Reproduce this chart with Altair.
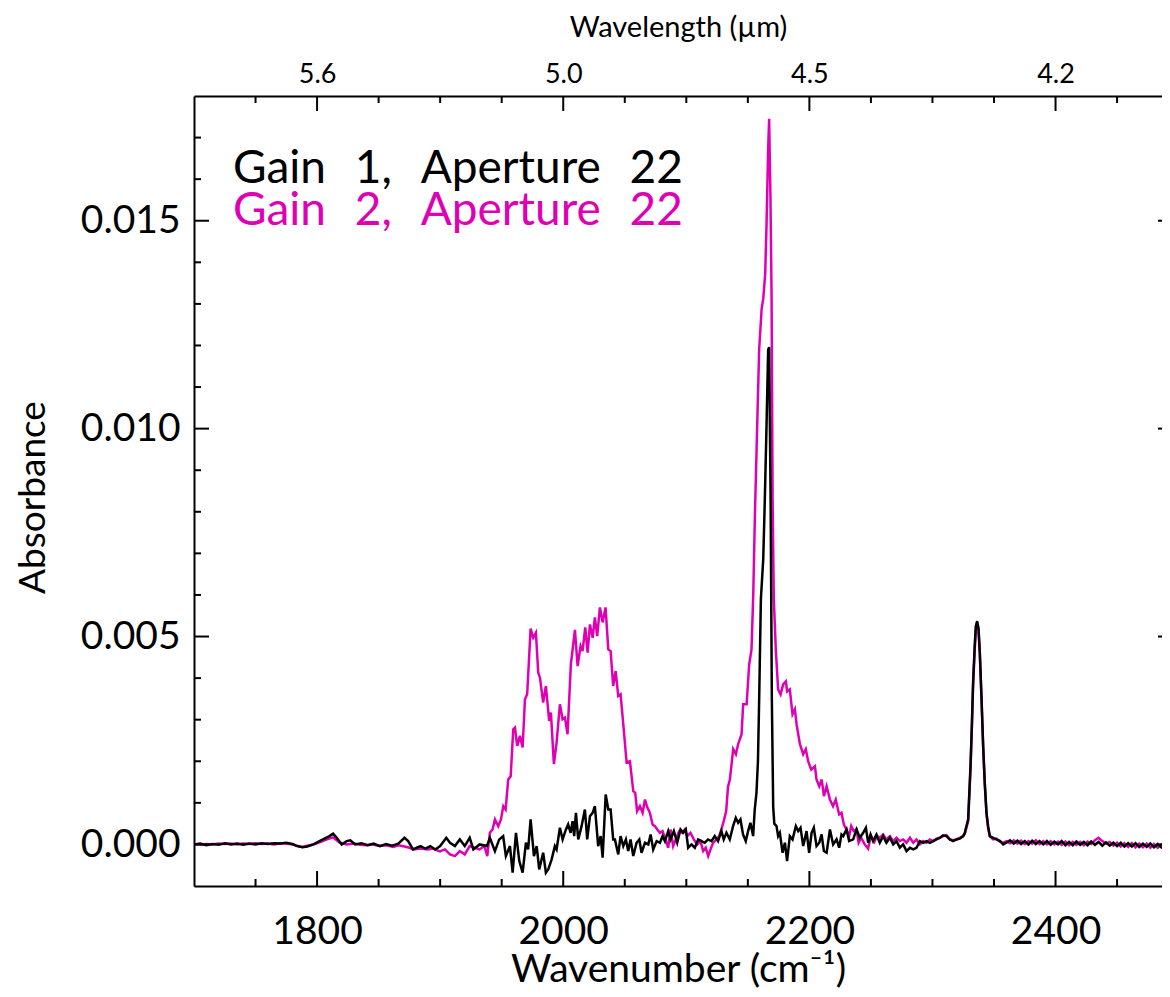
import altair as alt
import pandas as pd

# ---------------- data ----------------
wn_g1 = [1700, 1705, 1710, 1715, 1720, 1725, 1730, 1735, 1740, 1745, 1750, 1755, 1760, 1765, 1770, 1775, 1780, 1784, 1788, 1792,
         1797, 1802, 1806, 1810, 1813, 1816, 1820, 1824, 1827, 1831, 1836, 1841, 1846, 1851, 1856, 1861, 1866, 1871, 1874, 1878,
         1881, 1884, 1888, 1892, 1896, 1900, 1905, 1908, 1912, 1916, 1920, 1924, 1927, 1932, 1938, 1940.4, 1944.5, 1948, 1951.2, 1953.4,
         1956.7, 1958.9, 1961.6, 1964.3, 1967, 1969.7, 1971.5, 1973.5, 1976.2, 1978.4, 1980.5, 1983.7, 1985.9, 1987.8, 1990.6, 1993.2, 1994.6, 1997.3, 1999.5, 2002.2,
         2004, 2006, 2007.6, 2008.9, 2010.3, 2012.2, 2014.9, 2017.6, 2019.5, 2021.7, 2023.9, 2025.7, 2028.4, 2030.4, 2032, 2034.5, 2036.6, 2038.5, 2040.6, 2042,
         2044.7, 2046.6, 2048.8, 2050.9, 2052.8, 2054.7, 2056.9, 2059.6, 2061.8, 2063.6, 2066.4, 2069.1, 2071, 2073.1, 2075.9, 2078.6, 2080.7, 2082.6, 2085.3, 2087.2,
         2089.9, 2092.6, 2095.3, 2097.5, 2099.6, 2101.5, 2104.2, 2106.9, 2109.6, 2112.3, 2115, 2117.7, 2120.4, 2123.1, 2125.8, 2128.5, 2130.4, 2132.6, 2135.3, 2138,
         2140.2, 2142.1, 2144, 2146.1, 2148.3, 2150.2, 2152.1, 2154.3, 2155.6, 2157, 2158.2, 2159.2, 2160.6, 2162.5, 2163.8, 2165.2, 2166.5, 2167.3, 2168.5, 2169.5,
         2170.6, 2171.5, 2173.3, 2174.6, 2176, 2178.2, 2180.1, 2181.9, 2184.1, 2186.3, 2189, 2190.9, 2192.8, 2195, 2197.7, 2199.8, 2201.8, 2203.6, 2205.8, 2208,
         2209.9, 2211.8, 2214, 2216.7, 2219.3, 2222.1, 2224.2, 2226.1, 2227.5, 2230.2, 2232.3, 2235.6, 2238.3, 2241, 2243.7, 2245.9, 2247.8, 2249.7, 2251.8, 2254.5,
         2257.2, 2259.9, 2262.6, 2265.4, 2268.1, 2270.8, 2273.5, 2276.2, 2278.9, 2281.7, 2284.4, 2287, 2289.8, 2292.5, 2295.2, 2297.9, 2300.6, 2303.3, 2306, 2308.7,
         2311.4, 2314.1, 2316.8, 2319.5, 2322.2, 2325, 2326.3, 2327.6, 2329, 2330.9, 2332, 2333, 2334.2, 2335.2, 2336.3, 2337.4, 2338.5, 2339.9, 2341.2, 2342.5,
         2343.9, 2345.2, 2346.6, 2349.3, 2352, 2355, 2357.5, 2360, 2363, 2366, 2369, 2372, 2375, 2378, 2381, 2384, 2387, 2390, 2393, 2396,
         2399, 2402, 2405, 2408, 2411, 2414, 2417, 2420, 2423, 2426, 2429, 2432, 2435, 2438, 2441, 2444, 2447, 2450, 2453, 2456,
         2459, 2462, 2465, 2468, 2471, 2474, 2477, 2480, 2483, 2486, 2489, 2492]
abs_g1 = [0.00000, 0.00002, -0.00002, 0.00001, -0.00001, 0.00003, 0.00000, 0.00002, -0.00001, 0.00002, 0.00000, 0.00003, 0.00001, 0.00003, 0.00002, 0.00004, 0.00001, -0.00004, -0.00007, -0.00005,
          0.00000, 0.00008, 0.00014, 0.00020, 0.00026, 0.00016, 0.00000, 0.00008, 0.00010, 0.00000, 0.00003, -0.00002, 0.00002, -0.00004, 0.00001, -0.00003, 0.00002, 0.00016, 0.00008, -0.00012,
          -0.00008, -0.00004, -0.00010, -0.00004, -0.00012, -0.00004, 0.00016, 0.00004, -0.00004, 0.00012, -0.00004, 0.00016, -0.00012, 0.00000, -0.00004, 0.00016, -0.00016, 0.00012, 0.00020, -0.00028,
          -0.00004, -0.00068, 0.00028, -0.00040, -0.00068, 0.00004, -0.00012, 0.00060, -0.00028, -0.00004, -0.00060, -0.00020, -0.00068, -0.00060, -0.00036, -0.00004, -0.00012, 0.00040, 0.00012, 0.00036,
          0.00048, 0.00028, 0.00056, 0.00020, 0.00076, 0.00012, 0.00044, 0.00084, 0.00012, 0.00068, 0.00076, 0.00092, -0.00004, 0.00020, -0.00032, 0.00120, 0.00084, 0.00084, 0.00012, 0.00012,
          -0.00024, 0.00020, -0.00004, 0.00012, -0.00016, 0.00012, -0.00028, 0.00004, 0.00012, -0.00020, 0.00004, 0.00000, 0.00024, -0.00012, 0.00008, 0.00004, 0.00020, 0.00008, 0.00032, 0.00012,
          0.00032, 0.00004, 0.00036, 0.00028, 0.00036, -0.00008, 0.00000, -0.00008, 0.00012, 0.00008, 0.00004, 0.00012, 0.00008, 0.00020, 0.00008, 0.00032, 0.00012, 0.00028, 0.00012, 0.00044,
          0.00064, 0.00052, 0.00060, 0.00024, 0.00008, 0.00032, 0.00052, 0.00020, 0.00084, 0.00124, 0.00200, 0.00349, 0.00590, 0.00686, 0.00830, 0.01010, 0.01190, 0.01196, 0.00830, 0.00349,
          0.00090, 0.00050, 0.00044, 0.00020, 0.00028, -0.00020, 0.00004, -0.00040, 0.00020, 0.00012, 0.00044, 0.00032, 0.00040, -0.00004, 0.00032, -0.00020, 0.00028, 0.00040, -0.00004, 0.00004,
          0.00024, -0.00016, -0.00020, 0.00036, 0.00000, 0.00012, -0.00008, 0.00024, 0.00020, 0.00036, 0.00008, 0.00012, 0.00036, 0.00016, 0.00028, 0.00040, 0.00004, 0.00024, 0.00008, 0.00024,
          0.00004, 0.00020, 0.00004, 0.00016, 0.00000, 0.00008, -0.00008, 0.00000, -0.00016, -0.00008, -0.00012, -0.00008, 0.00008, 0.00004, 0.00008, 0.00004, 0.00008, 0.00012, 0.00016, 0.00022,
          0.00020, 0.00012, 0.00008, 0.00012, 0.00014, 0.00020, 0.00028, 0.00044, 0.00060, 0.00188, 0.00285, 0.00389, 0.00469, 0.00525, 0.00537, 0.00521, 0.00461, 0.00349, 0.00237, 0.00148,
          0.00076, 0.00044, 0.00020, 0.00016, 0.00012, 0.00008, 0.00000, 0.00004, 0.00010, 0.00002, 0.00009, 0.00001, 0.00008, 0.00000, 0.00009, 0.00001, 0.00008, 0.00000, 0.00008, -0.00001,
          0.00007, 0.00000, 0.00008, -0.00002, 0.00006, -0.00002, 0.00007, -0.00001, 0.00006, -0.00002, 0.00007, -0.00001, 0.00006, -0.00003, 0.00005, -0.00003, 0.00004, -0.00004, 0.00004, -0.00005,
          0.00003, -0.00005, 0.00003, -0.00006, 0.00002, -0.00006, 0.00002, -0.00007, 0.00001, -0.00007, 0.00000, -0.00006]

wn_g2 = [1700, 1705, 1710, 1715, 1720, 1725, 1730, 1735, 1740, 1745, 1750, 1755, 1760, 1765, 1770, 1775, 1780, 1784, 1788, 1792,
         1797, 1802, 1808, 1813, 1818, 1824, 1830, 1835, 1840, 1845, 1851, 1856, 1862, 1866, 1871, 1875, 1878, 1884, 1890, 1894,
         1899.8, 1903.9, 1908, 1912, 1916, 1920, 1924, 1928, 1932, 1936, 1938.3, 1940.4, 1942.6, 1944.5, 1947.2, 1949.4, 1951.3, 1953.2, 1955.3, 1957.3,
         1959.4, 1960.8, 1962.6, 1964.8, 1967, 1968.9, 1970.7, 1973.5, 1975.6, 1977.8, 1979.7, 1981.1, 1983.7, 1985.9, 1988.6, 1990, 1992.4, 1994.6, 1997.3, 1999.5,
         2001.4, 2003.5, 2006.2, 2009.5, 2011.7, 2014.1, 2015.7, 2017.9, 2019.8, 2021.7, 2023.9, 2025.7, 2027.6, 2029.8, 2032, 2034.4, 2036.6, 2038.5, 2040.6, 2042.6,
         2044.7, 2046.6, 2048.8, 2051.5, 2054.2, 2056.9, 2058.5, 2060, 2062.3, 2064.5, 2066.4, 2068.2, 2070.4, 2072.6, 2074.5, 2076.4, 2078.6, 2080.7, 2082.6, 2085.3,
         2087.2, 2089.3, 2091.4, 2094.2, 2096.9, 2098.8, 2100.7, 2103.4, 2106.1, 2108.8, 2111.5, 2113.7, 2115.8, 2117.8, 2119.7, 2121.8, 2124.5, 2126.7, 2128.5, 2130.4,
         2132.4, 2133.9, 2135.4, 2138.1, 2140.3, 2142.1, 2144.9, 2146.2, 2149, 2151.1, 2153, 2154.4, 2155.8, 2157.1, 2159.2, 2161.2, 2162.5, 2164.1, 2165.2, 2166.5,
         2167.3, 2168.4, 2169.3, 2170.1, 2171.1, 2172.7, 2174.6, 2176.6, 2178.7, 2180.9, 2181.9, 2184.1, 2186.3, 2188.2, 2189.6, 2192.3, 2195, 2197.1, 2199, 2201.5,
         2204.5, 2205.8, 2208, 2210, 2211.8, 2214, 2216.7, 2219.2, 2221.4, 2224.2, 2226.1, 2228, 2230, 2232.3, 2234, 2236, 2238.3, 2240, 2242, 2245,
         2247.7, 2250, 2252.8, 2255, 2257.2, 2259.9, 2262.6, 2265.4, 2268.1, 2270.8, 2273.5, 2276.2, 2278.9, 2281.7, 2284.4, 2287, 2289.8, 2292.5, 2295.2, 2297.9,
         2300.6, 2303.3, 2306, 2308.7, 2311.4, 2314.1, 2316.8, 2319.5, 2322.2, 2325, 2326.3, 2327.6, 2329, 2330.9, 2332, 2333, 2334.2, 2335.2, 2336.3, 2337.4,
         2338.5, 2339.9, 2341.2, 2342.5, 2343.9, 2345.2, 2346.6, 2349.3, 2352, 2355, 2357.5, 2360, 2363, 2366, 2369, 2372, 2375, 2378, 2381, 2384,
         2387, 2390, 2393, 2396, 2399, 2402, 2405, 2408, 2411, 2414, 2417, 2420, 2423, 2426, 2429, 2432, 2435, 2438, 2441, 2444,
         2447, 2450, 2453, 2456, 2459, 2462, 2465, 2468, 2471, 2474, 2477, 2480, 2483, 2486, 2489, 2492]
abs_g2 = [0.00001, -0.00001, 0.00001, 0.00000, 0.00002, 0.00001, 0.00002, 0.00000, 0.00002, 0.00001, 0.00003, 0.00001, 0.00002, 0.00000, 0.00003, 0.00002, 0.00000, -0.00004, -0.00006, -0.00003,
          0.00000, 0.00005, 0.00012, 0.00017, 0.00005, 0.00000, 0.00002, -0.00001, -0.00002, 0.00000, -0.00004, -0.00002, -0.00006, -0.00002, -0.00005, -0.00008, -0.00012, -0.00010, -0.00012, -0.00010,
          -0.00017, -0.00012, -0.00024, -0.00028, -0.00016, -0.00024, -0.00004, -0.00008, -0.00012, -0.00004, -0.00028, 0.00028, 0.00036, 0.00060, 0.00044, 0.00060, 0.00092, 0.00084, 0.00156, 0.00164,
          0.00277, 0.00281, 0.00237, 0.00261, 0.00233, 0.00349, 0.00361, 0.00519, 0.00497, 0.00509, 0.00413, 0.00401, 0.00341, 0.00381, 0.00297, 0.00317, 0.00193, 0.00245, 0.00337, 0.00301,
          0.00305, 0.00265, 0.00433, 0.00516, 0.00429, 0.00477, 0.00465, 0.00522, 0.00461, 0.00529, 0.00497, 0.00546, 0.00501, 0.00570, 0.00534, 0.00570, 0.00469, 0.00465, 0.00381, 0.00417,
          0.00357, 0.00361, 0.00289, 0.00197, 0.00200, 0.00128, 0.00124, 0.00080, 0.00092, 0.00076, 0.00108, 0.00090, 0.00076, 0.00048, 0.00044, 0.00036, 0.00028, 0.00032, 0.00016, -0.00008,
          0.00036, -0.00004, 0.00012, 0.00032, 0.00028, 0.00036, 0.00020, 0.00028, 0.00012, 0.00000, 0.00008, -0.00016, -0.00008, -0.00028, -0.00012, 0.00004, 0.00012, 0.00020, 0.00036, 0.00056,
          0.00080, 0.00139, 0.00156, 0.00229, 0.00217, 0.00241, 0.00265, 0.00337, 0.00337, 0.00433, 0.00469, 0.00602, 0.00800, 0.00950, 0.01191, 0.01288, 0.01312, 0.01372, 0.01492, 0.01673,
          0.01745, 0.01552, 0.01312, 0.00830, 0.00590, 0.00469, 0.00373, 0.00361, 0.00385, 0.00392, 0.00368, 0.00373, 0.00313, 0.00325, 0.00289, 0.00241, 0.00217, 0.00229, 0.00200, 0.00180,
          0.00188, 0.00156, 0.00140, 0.00156, 0.00116, 0.00140, 0.00108, 0.00092, 0.00108, 0.00072, 0.00076, 0.00048, 0.00036, 0.00020, 0.00044, 0.00032, 0.00036, 0.00004, 0.00016, 0.00000,
          -0.00010, 0.00020, 0.00006, 0.00020, 0.00016, 0.00024, 0.00012, 0.00020, 0.00008, 0.00016, 0.00008, 0.00012, 0.00004, 0.00016, 0.00004, 0.00012, 0.00000, 0.00008, 0.00004, 0.00012,
          0.00008, 0.00014, 0.00016, 0.00020, 0.00022, 0.00012, 0.00010, 0.00012, 0.00016, 0.00020, 0.00026, 0.00040, 0.00056, 0.00180, 0.00278, 0.00380, 0.00460, 0.00515, 0.00528, 0.00515,
          0.00455, 0.00345, 0.00232, 0.00145, 0.00074, 0.00040, 0.00020, 0.00012, 0.00014, 0.00006, 0.00004, 0.00008, 0.00003, 0.00010, 0.00002, 0.00009, 0.00001, 0.00008, 0.00002, 0.00010,
          0.00001, 0.00008, 0.00000, 0.00008, 0.00000, 0.00007, -0.00001, 0.00007, -0.00002, 0.00006, -0.00001, 0.00006, -0.00002, 0.00007, 0.00001, 0.00010, 0.00016, 0.00008, 0.00002, 0.00006,
          -0.00003, 0.00004, -0.00005, 0.00003, -0.00006, 0.00003, -0.00007, 0.00002, -0.00007, 0.00002, -0.00008, 0.00001, -0.00008, 0.00000, -0.00007, 0.00000]

series_labels = ["Gain 1, Aperture 22", "Gain 2, Aperture 22"]
x_major = [1800, 2000, 2200, 2400]
x_minor = [1750, 1850, 1900, 1950, 2050, 2100, 2150, 2250, 2300, 2350, 2450]
top_labels = ["5.6", "5.0", "4.5", "4.2"]
y_major = [0.000, 0.005, 0.010, 0.015]
y_minor = [0.001, 0.002, 0.003, 0.004, 0.006, 0.007, 0.008, 0.009,
           0.011, 0.012, 0.013, 0.014, 0.016, 0.017]

# ---------------- styling ----------------
FONT = "Lato"
MAGENTA = "#E000B4"
W, H = 968, 790
xscale = alt.Scale(domain=[1700, 2486.5], nice=False, zero=False)
yscale = alt.Scale(domain=[-0.001, 0.018], nice=False, zero=False)

df1 = pd.DataFrame({"wn": wn_g1, "a": abs_g1})
df2 = pd.DataFrame({"wn": wn_g2, "a": abs_g2})

top_expr = " : ".join(
    f"datum.value == {v} ? '{t}'" for v, t in zip(x_major, top_labels)
) + " : ''"

bottom_axis = alt.Axis(orient="bottom", values=x_major, format="d", ticks=False, tickSize=0,
                       grid=False, domain=True, domainColor="black", domainWidth=2,
                       labelFont=FONT, labelFontSize=39, labelColor="black",
                       labelBaseline="alphabetic", labelPadding=57,
                       title="Wavenumber (cm⁻¹)", titleFont=FONT, titleFontSize=39,
                       titleFontWeight="normal", titleColor="black",
                       titleBaseline="alphabetic", titleY=95)
top_axis = alt.Axis(orient="top", values=x_major, labelExpr=top_expr, ticks=False, tickSize=0,
                    grid=False, domain=True, domainColor="black", domainWidth=2,
                    labelFont=FONT, labelFontSize=27, labelColor="black",
                    labelBaseline="alphabetic", labelPadding=14,
                    title="Wavelength (µm)", titleFont=FONT, titleFontSize=29,
                    titleFontWeight="normal", titleColor="black",
                    titleBaseline="alphabetic", titleY=-60)
left_axis = alt.Axis(orient="left", values=y_major, format=".3f", ticks=False, tickSize=0,
                     grid=False, domain=True, domainColor="black", domainWidth=2,
                     labelFont=FONT, labelFontSize=39, labelColor="black", labelPadding=14,
                     title="Absorbance", titleFont=FONT, titleFontSize=37,
                     titleFontWeight="normal", titleColor="black", titleAngle=270,
                     titleBaseline="alphabetic", titleAlign="center", titleX=-150, titleY=401)

line2 = alt.Chart(df2).mark_line(color=MAGENTA, strokeWidth=2.5, clip=True).encode(
    x=alt.X("wn:Q", scale=xscale, axis=bottom_axis),
    y=alt.Y("a:Q", scale=yscale, axis=left_axis),
    order=alt.Order("wn:Q"),
)
line1 = alt.Chart(df1).mark_line(color="black", strokeWidth=2.5, clip=True).encode(
    x=alt.X("wn:Q", scale=xscale, axis=top_axis),
    y=alt.Y("a:Q", scale=yscale, axis=None),
    order=alt.Order("wn:Q"),
)


def xticks(vals, y0, y1):
    return alt.Chart(pd.DataFrame({"v": vals})).mark_rule(color="black", strokeWidth=2).encode(
        x=alt.X("v:Q", scale=xscale, axis=None), y=alt.value(y0), y2=alt.value(y1))


def yticks(vals, x0, x1):
    return alt.Chart(pd.DataFrame({"v": vals})).mark_rule(color="black", strokeWidth=2).encode(
        y=alt.Y("v:Q", scale=yscale, axis=None), x=alt.value(x0), x2=alt.value(x1))


tick_layers = [
    xticks(x_major, H, H - 15), xticks(x_minor, H, H - 7),
    xticks(x_major, 0, 15), xticks(x_minor, 0, 7),
    yticks(y_major, 0, 15), yticks(y_minor, 0, 7),
    yticks(y_major, W - 4, W),
]

gap = "\u2002\u2009"
leg1 = alt.Chart(pd.DataFrame({"t": [series_labels[0].replace(" ", gap)]})).mark_text(
    font=FONT, fontSize=46, color="black", align="left", baseline="alphabetic").encode(
    text="t:N", x=alt.value(39), y=alt.value(87))
leg2 = alt.Chart(pd.DataFrame({"t": [series_labels[1].replace(" ", gap)]})).mark_text(
    font=FONT, fontSize=46, color=MAGENTA, align="left", baseline="alphabetic").encode(
    text="t:N", x=alt.value(39), y=alt.value(129))

chart = alt.layer(line2, line1, *tick_layers, leg1, leg2).resolve_axis(
    x="independent", y="independent"
).properties(
    width=W, height=H,
    autosize=alt.AutoSizeParams(type="none"),
    padding={"left": 186, "top": 88, "right": 0, "bottom": 103},
    background="white",
).configure_view(stroke=None)

chart.save("out.html", embed_options={"renderer": "svg", "actions": False})
